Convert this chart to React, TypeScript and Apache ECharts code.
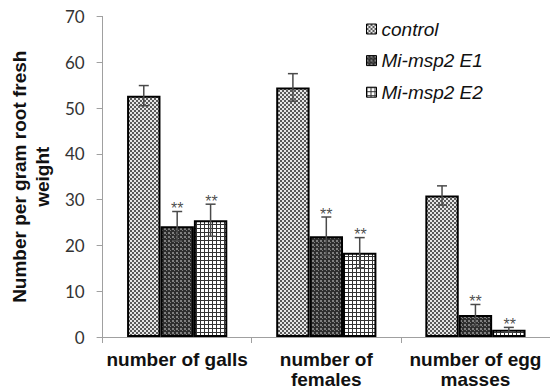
import React, { useEffect, useRef } from "react";
import * as echarts from "echarts";

const categories = ["number of galls", "number of\nfemales", "number of egg\nmasses"];
const seriesNames = ["control", "Mi-msp2 E1", "Mi-msp2 E2"];
const controlValues = [52.7, 54.5, 30.9];
const controlErrors = [2.2, 3.0, 2.1];
const e1Values = [24.2, 22.0, 4.8];
const e1Errors = [3.2, 4.2, 2.3];
const e2Values = [25.5, 18.4, 1.6];
const e2Errors = [3.5, 3.3, 0.5];
const controlSig = ["", "", ""];
const e1Sig = ["**", "**", "**"];
const e2Sig = ["**", "**", "**"];
const yTicks = { min: 0, max: 70, interval: 10 };

function makePattern(draw: (ctx: CanvasRenderingContext2D) => void, w: number, h: number) {
  const c = document.createElement("canvas");
  c.width = w;
  c.height = h;
  const ctx = c.getContext("2d") as CanvasRenderingContext2D;
  draw(ctx);
  return { image: c, repeat: "repeat", imageWidth: w, imageHeight: h } as any;
}

export default function App() {
  const ref = useRef<HTMLDivElement>(null);
  useEffect(() => {
    if (!ref.current) return;
    const chart = echarts.init(ref.current, null, { renderer: "svg" });

    const pControl = makePattern((ctx) => {
      ctx.fillStyle = "#e6e6e6";
      ctx.fillRect(0, 0, 4, 4);
      ctx.fillStyle = "#5a5a5a";
      ctx.fillRect(0, 0, 2, 2);
      ctx.fillRect(2, 2, 2, 2);
    }, 4, 4);
    const pE1 = makePattern((ctx) => {
      ctx.fillStyle = "#2e2e2e";
      ctx.fillRect(0, 0, 4, 4);
      ctx.fillStyle = "#808080";
      ctx.fillRect(0, 0, 2, 2);
      ctx.fillRect(2, 2, 1, 1);
    }, 4, 4);
    const pE2 = makePattern((ctx) => {
      ctx.fillStyle = "#ffffff";
      ctx.fillRect(0, 0, 4, 4);
      ctx.fillStyle = "#333333";
      ctx.fillRect(0, 0, 4, 1);
      ctx.fillRect(0, 0, 1, 4);
    }, 4, 4);

    const patterns = [pControl, pE1, pE2];
    const values = [controlValues, e1Values, e2Values];
    const errors = [controlErrors, e1Errors, e2Errors];
    const sigs = [controlSig, e1Sig, e2Sig];
    const barFrac = 0.224;
    const gridWidth = 459;
    const bandPx = gridWidth / categories.length;

    const barSeries = seriesNames.map((name, i) => ({
      name,
      type: "bar",
      data: values[i],
      barWidth: barFrac * 100 + "%",
      barGap: "0%",
      itemStyle: { color: patterns[i], borderColor: "#000", borderWidth: 2 },
      z: 2,
    }));

    const errSeries = seriesNames.map((name, i) => ({
      name: "err" + i,
      type: "custom",
      z: 5,
      silent: true,
      data: values[i].map((v, j) => [j, v, errors[i][j]]),
      renderItem: (params: any, api: any) => {
        const idx = api.value(0);
        const v = api.value(1);
        const e = api.value(2);
        const band = api.size([1, 0])[0];
        const off = (i - 1) * barFrac * band;
        const top = api.coord([idx, v + e]);
        const bot = api.coord([idx, v - e]);
        const x = top[0] + off;
        const stroke = { stroke: "#4a4a4a", lineWidth: 1.5 };
        return {
          type: "group",
          children: [
            { type: "line", shape: { x1: x, y1: top[1], x2: x, y2: bot[1] }, style: stroke },
            { type: "line", shape: { x1: x - 5, y1: top[1], x2: x + 5, y2: top[1] }, style: stroke },
            { type: "line", shape: { x1: x - 5, y1: bot[1], x2: x + 5, y2: bot[1] }, style: stroke },
          ],
        };
      },
    }));

    const sigSeries = seriesNames.map((name, i) => ({
      name: "sig" + i,
      type: "scatter",
      z: 6,
      silent: true,
      symbol: "circle",
      symbolSize: 1,
      itemStyle: { color: "rgba(0,0,0,0)" },
      data: values[i].map((v, j) => (sigs[i][j] ? { value: [j, v + errors[i][j]], sig: sigs[i][j] } : { value: [j, "-"] })),
      label: {
        show: true,
        position: "inside",
        offset: [(i - 1) * barFrac * bandPx, -3],
        formatter: (p: any) => (p.data && p.data.sig) || "",
        color: "#1a1a1a",
        fontSize: 16,
        fontFamily: "Liberation Sans",
      },
    }));

    chart.setOption({
      animation: false,
      backgroundColor: "#fff",
      grid: { left: 94, top: 16.4, width: gridWidth, bottom: 54, containLabel: false },
      legend: {
        data: seriesNames,
        orient: "vertical",
        left: 366,
        top: 19,
        padding: 0,
        itemWidth: 10,
        itemHeight: 10,
        itemGap: 11.6,
        icon: "rect",
        itemStyle: { borderWidth: 1, borderColor: "#000" },
        textStyle: {
          fontSize: 19,
          fontStyle: "italic",
          fontFamily: "Liberation Sans",
          color: "#111",
          lineHeight: 20,
        },
      },
      xAxis: {
        type: "category",
        data: categories,
        axisLine: { lineStyle: { color: "#a0a0a0", width: 1 } },
        axisTick: { show: true, alignWithLabel: false, length: 6, lineStyle: { color: "#a0a0a0" } },
        axisLabel: {
          interval: 0,
          margin: 12,
          fontSize: 19,
          fontWeight: "bold",
          fontFamily: "Liberation Sans",
          color: "#111",
          lineHeight: 20,
        },
      },
      yAxis: {
        type: "value",
        min: yTicks.min,
        max: yTicks.max,
        interval: yTicks.interval,
        name: "Number per gram root fresh\nweight",
        nameLocation: "middle",
        nameRotate: 90,
        nameGap: 34,
        nameTextStyle: {
          fontSize: 19,
          fontWeight: "bold",
          fontFamily: "Liberation Sans",
          color: "#111",
          lineHeight: 23,
        },
        axisLine: { show: true, lineStyle: { color: "#a0a0a0", width: 1 } },
        axisTick: { show: true, length: 6, lineStyle: { color: "#a0a0a0" } },
        splitLine: { show: false },
        axisLabel: {
          margin: 18,
          fontSize: 17,
          fontFamily: "Lato",
          color: "#333",
        },
      },
      series: [...barSeries, ...errSeries, ...sigSeries],
    });
    return () => chart.dispose();
  }, []);
  return <div ref={ref} style={{ width: 550, height: 391, position: "absolute", left: 0, top: 0 }} />;
}
